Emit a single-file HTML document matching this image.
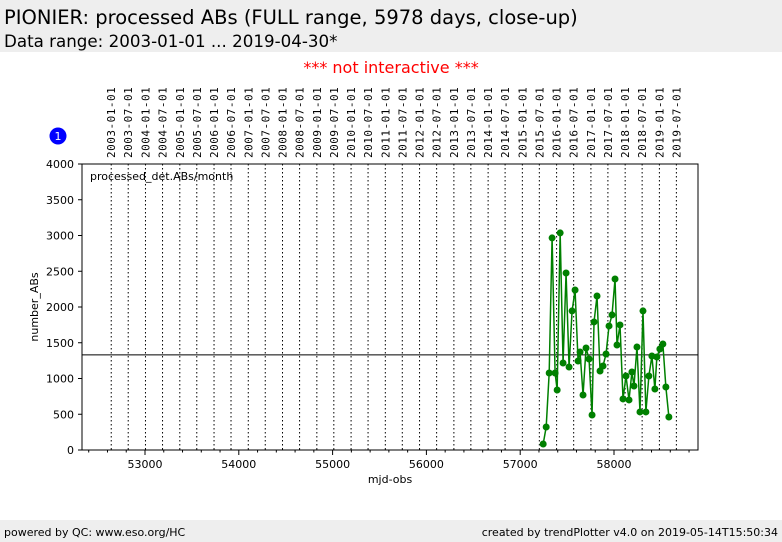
<!DOCTYPE html>
<html><head><meta charset="utf-8"><style>
body{margin:0;width:782px;height:542px;background:#fff;font-family:"DejaVu Sans","Liberation Sans",sans-serif;overflow:hidden;position:relative}
.hdr{position:absolute;left:0;top:0;width:782px;height:52px;background:#eee}
.t1{position:absolute;left:4px;top:6px;font-size:19.5px;color:#000}
.t2{position:absolute;left:4px;top:31px;font-size:16.7px;color:#000}
.ni{position:absolute;left:0;width:782px;top:58px;text-align:center;color:#f00;font-size:16px}
.ftr{position:absolute;left:0;top:520px;width:782px;height:22px;background:#eee;font-size:11px}
</style></head><body>
<div class="hdr">
<div class="t1">PIONIER: processed ABs (FULL range, 5978 days, close-up)</div>
<div class="t2">Data range: 2003-01-01 ... 2019-04-30*</div>
</div>
<div class="ni">*** not interactive ***</div>
<svg id="ch" width="782" height="542" style="position:absolute;left:0;top:0"></svg>
<div class="ftr">
<span style="position:absolute;left:4px;top:6px">powered by QC: www.eso.org/HC</span>
<span style="position:absolute;right:4px;top:6px">created by trendPlotter v4.0 on 2019-05-14T15:50:34</span>
</div>
<script>
const mjds=[57245,57277,57309,57340,57372,57394,57426,57457,57489,57521,57553,57585,57617,57638,57670,57702,57734,57766,57787,57819,57851,57883,57915,57947,57979,58011,58032,58064,58096,58128,58160,58191,58213,58245,58277,58309,58340,58372,58404,58436,58457,58489,58521,58553,58585];
const values=[84,322,1077,2966,1077,839,3036,1217,2476,1161,1945,2238,1245,1371,769,1427,1273,490,1791,2154,1105,1175,1343,1735,1889,2392,1469,1749,714,1035,700,1091,895,1441,532,1945,532,1035,1315,853,1300,1413,1483,881,462];
const yTicks=[0,500,1000,1500,2000,2500,3000,3500,4000];
const xTicks=[53000,54000,55000,56000,57000,58000];
const refLine=1330;
const dates=[];for(let y=2003;y<=2019;y++){dates.push(y+'-01-01');dates.push(y+'-07-01');}
const L=82,R=698,T=164,B=450;
const X=m=>145+(m-53000)*0.0938;
const Y=v=>B-(v/4000)*(B-T);
const svg=document.getElementById('ch');const NS='http://www.w3.org/2000/svg';
function el(t,a,p){const e=document.createElementNS(NS,t);for(const k in a)e.setAttribute(k,a[k]);(p||svg).appendChild(e);return e;}
const mjdOf=d=>Date.UTC(+d.slice(0,4),+d.slice(5,7)-1,+d.slice(8,10))/86400000+40587;
dates.forEach(d=>{const x=X(mjdOf(d));
 const l=el('line',{x1:x,x2:x,y1:T,y2:B,stroke:'#000','stroke-width':1,'stroke-dasharray':'1.5,2.5'});
 
 const t=el('text',{x:0,y:0,transform:`translate(${x+4},158) rotate(-90)`,'font-size':11,'font-family':'DejaVu Sans Mono,Liberation Mono,monospace','letter-spacing':'0.5'});
 t.textContent=d;});
const fr=el('rect',{x:L,y:T,width:R-L,height:B-T,fill:'none',stroke:'#000'});

yTicks.forEach(v=>{const y=Y(v);el('line',{x1:L-4,x2:L,y1:y,y2:y,stroke:'#000'});
 const t=el('text',{x:L-8,y:y+4,'text-anchor':'end','font-size':11});t.textContent=v;
 });
for(let m=52400;m<=58800;m+=200){const x=X(m);if(x<L||x>R)continue;const maj=m%1000===0;
 el('line',{x1:x,x2:x,y1:B,y2:B+(maj?5:2.5),stroke:'#000'});}
xTicks.forEach(m=>{const t=el('text',{x:X(m),y:B+18,'text-anchor':'middle','font-size':11});t.textContent=m;
 });
const rl=el('line',{x1:L,x2:R,y1:Y(refLine),y2:Y(refLine),stroke:'#000','stroke-width':1});

const pl=el('polyline',{points:mjds.map((m,i)=>X(m)+','+Y(values[i])).join(' '),fill:'none',stroke:'#008000','stroke-width':1.5});

mjds.forEach((m,i)=>{const c=el('circle',{cx:X(m),cy:Y(values[i]),r:3.5,fill:'#008000'});
 });
let t=el('text',{x:90,y:180,'font-size':11});t.textContent='processed_det.ABs/month';

t=el('text',{x:390,y:483,'text-anchor':'middle','font-size':11});t.textContent='mjd-obs';

t=el('text',{x:0,y:0,transform:'translate(38,307) rotate(-90)','text-anchor':'middle','font-size':11});t.textContent='number_ABs';

const b=el('circle',{cx:58,cy:136,r:8.5,fill:'#0000ff'});

t=el('text',{x:58,y:140,'text-anchor':'middle','font-size':11,fill:'#fff'});t.textContent='1';

</script>
</body></html>
